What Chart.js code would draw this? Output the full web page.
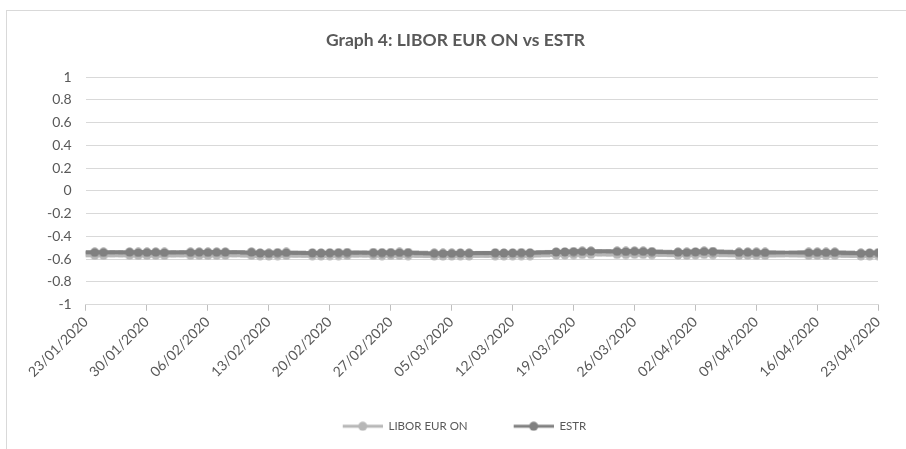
<!DOCTYPE html>
<html>
<script src="https://cdn.jsdelivr.net/npm/chart.js@4.4.0/dist/chart.umd.min.js"></script>
<style>
  body { margin: 0; background: #fff; }
  #frame { position: absolute; left: 6px; top: 10px; width: 940px; height: 480px; border: 1px solid #d9d9d9; }
  #wrap { position: absolute; left: 0; top: 0; width: 906px; height: 449px; }
</style>
<body>
<div id="frame"></div>
<div id="wrap"><canvas id="myChart" width="906" height="449"></canvas></div>

<script>
var tickLabels = ["23/01/2020", "30/01/2020", "06/02/2020", "13/02/2020", "20/02/2020", "27/02/2020", "05/03/2020",
  "12/03/2020", "19/03/2020", "26/03/2020", "02/04/2020", "09/04/2020", "16/04/2020", "23/04/2020"];

var dates = ["23/01/2020", "24/01/2020",
  "27/01/2020", "28/01/2020", "29/01/2020", "30/01/2020", "31/01/2020",
  "03/02/2020", "04/02/2020", "05/02/2020", "06/02/2020", "07/02/2020",
  "10/02/2020", "11/02/2020", "12/02/2020", "13/02/2020", "14/02/2020",
  "17/02/2020", "18/02/2020", "19/02/2020", "20/02/2020", "21/02/2020",
  "24/02/2020", "25/02/2020", "26/02/2020", "27/02/2020", "28/02/2020",
  "02/03/2020", "03/03/2020", "04/03/2020", "05/03/2020", "06/03/2020",
  "09/03/2020", "10/03/2020", "11/03/2020", "12/03/2020", "13/03/2020",
  "16/03/2020", "17/03/2020", "18/03/2020", "19/03/2020", "20/03/2020",
  "23/03/2020", "24/03/2020", "25/03/2020", "26/03/2020", "27/03/2020",
  "30/03/2020", "31/03/2020", "01/04/2020", "02/04/2020", "03/04/2020",
  "06/04/2020", "07/04/2020", "08/04/2020", "09/04/2020",
  "14/04/2020", "15/04/2020", "16/04/2020", "17/04/2020",
  "20/04/2020", "21/04/2020", "22/04/2020", "23/04/2020"];

var estr = [-0.540, -0.540,
  -0.538, -0.541, -0.540, -0.539, -0.541,
  -0.540, -0.539, -0.540, -0.539, -0.538,
  -0.538, -0.546, -0.548, -0.543, -0.541,
  -0.545, -0.546, -0.544, -0.543, -0.542,
  -0.542, -0.543, -0.542, -0.541, -0.542,
  -0.548, -0.549, -0.548, -0.546, -0.547,
  -0.544, -0.546, -0.545, -0.543, -0.544,
  -0.537, -0.536, -0.534, -0.531, -0.530,
  -0.531, -0.532, -0.530, -0.531, -0.534,
  -0.538, -0.540, -0.536, -0.531, -0.533,
  -0.540, -0.539, -0.540, -0.541,
  -0.541, -0.540, -0.541, -0.540,
  -0.548, -0.546, -0.543, -0.541];

var libor = [-0.566, -0.566,
  -0.565, -0.567, -0.566, -0.566, -0.567,
  -0.566, -0.566, -0.567, -0.566, -0.565,
  -0.566, -0.570, -0.571, -0.568, -0.567,
  -0.569, -0.570, -0.569, -0.568, -0.567,
  -0.567, -0.568, -0.567, -0.567, -0.568,
  -0.571, -0.572, -0.571, -0.570, -0.571,
  -0.569, -0.570, -0.569, -0.568, -0.569,
  -0.563, -0.562, -0.560, -0.558, -0.557,
  -0.558, -0.559, -0.557, -0.558, -0.560,
  -0.563, -0.565, -0.562, -0.558, -0.560,
  -0.566, -0.565, -0.566, -0.567,
  -0.567, -0.566, -0.567, -0.566,
  -0.571, -0.570, -0.568, -0.567];

var start = Date.UTC(2020, 0, 23);
function dayOf(s) {
  var p = s.split("/");
  return Math.round((Date.UTC(+p[2], +p[1] - 1, +p[0]) - start) / 86400000);
}
function toPoints(vals) {
  return vals.map(function (v, i) { return {x: dayOf(dates[i]), y: v}; });
}

// line + dot marker for the legend, like the excel one
// (blank strip on the left gives the gap between the two items)
var iconW = 58, iconGap = 18;
function legendIcon(color) {
  var c = document.createElement("canvas");
  c.width = iconW; c.height = 10;
  var ctx = c.getContext("2d");
  ctx.strokeStyle = color; ctx.lineWidth = 3;
  ctx.beginPath(); ctx.moveTo(iconGap, 5); ctx.lineTo(iconW, 5); ctx.stroke();
  ctx.fillStyle = color;
  ctx.beginPath(); ctx.arc((iconGap + iconW) / 2, 5, 4.5, 0, Math.PI * 2); ctx.fill();
  return c;
}

var lightGrey = "#b7b7b7";
var darkGrey = "#808080";
var textColor = "#595959";
var font = "Lato";

var chart = new Chart("myChart", {
  type: "line",
  data: {
    datasets: [{
      label: "LIBOR EUR ON",
      data: toPoints(libor),
      borderColor: lightGrey,
      backgroundColor: lightGrey,
      borderWidth: 3.5,
      pointRadius: 5,
      pointBorderWidth: 0,
      pointStyle: legendIcon(lightGrey),
      order: 2,
      fill: false
    }, {
      label: "ESTR",
      data: toPoints(estr),
      borderColor: darkGrey,
      backgroundColor: darkGrey,
      borderWidth: 3.5,
      pointRadius: 5,
      pointBorderWidth: 0,
      pointStyle: legendIcon(darkGrey),
      order: 1,
      fill: false
    }]
  },
  options: {
    responsive: false,
    animation: false,
    elements: { point: { pointStyle: "circle" } },
    layout: { padding: { left: 33, right: 28, top: 24, bottom: 7 } },
    plugins: {
      title: {
        display: true,
        text: "Graph 4: LIBOR EUR ON vs ESTR",
        color: textColor,
        font: { family: font, size: 17.5, weight: "bold" },
        padding: { top: 6, bottom: 26 }
      },
      legend: {
        position: "bottom",
        labels: {
          usePointStyle: true,
          pointStyleWidth: iconW,
          color: textColor,
          font: { family: font, size: 11.5 },
          padding: 28,
          sort: function (a, b) { return a.datasetIndex - b.datasetIndex; }
        }
      },
      tooltip: { enabled: false }
    },
    scales: {
      x: {
        type: "linear",
        min: 0,
        max: 91,
        afterFit: function (scale) { scale.height += 9; },
        grid: { drawOnChartArea: false, drawTicks: true, tickLength: 6, color: "#bfbfbf" },
        border: { color: "#d9d9d9" },
        ticks: {
          stepSize: 7,
          maxTicksLimit: 20,
          autoSkip: false,
          minRotation: 45,
          maxRotation: 45,
          color: textColor,
          font: { family: font, size: 14 },
          callback: function (v) { return tickLabels[Math.round(v / 7)]; }
        }
      },
      y: {
        min: -1,
        max: 1,
        grid: { color: "#d9d9d9", drawTicks: false },
        border: { display: false },
        ticks: {
          stepSize: 0.2,
          padding: 14,
          color: textColor,
          font: { family: font, size: 14 },
          callback: function (v) { return String(Math.round(v * 10) / 10); }
        }
      }
    }
  }
});
</script>
</body>
</html>
